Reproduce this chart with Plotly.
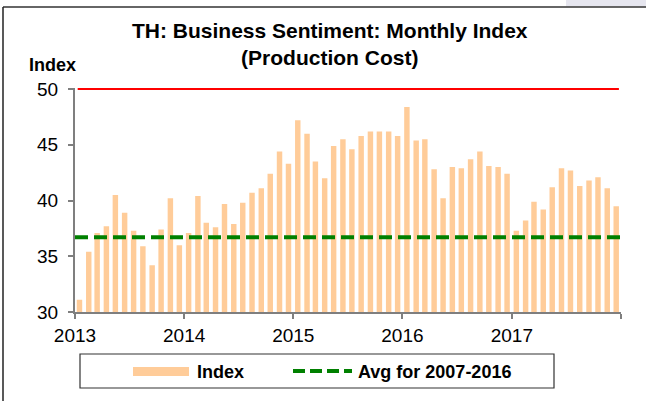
import plotly.graph_objects as go
import pandas as pd

# ---- data ----
start_month = "2013-01"
index_values = [
    31.1, 35.4, 37.1, 37.7, 40.5, 38.9, 37.3, 35.9, 34.2, 37.4, 40.2, 36.0,
    37.1, 40.4, 38.0, 37.6, 39.7, 37.9, 39.8, 40.7, 41.1, 42.4, 44.4, 43.3,
    47.2, 46.0, 43.5, 42.0, 44.9, 45.5, 44.6, 45.8, 46.2, 46.2, 46.2, 45.8,
    48.4, 45.4, 45.5, 42.8, 40.2, 43.0, 42.9, 43.7, 44.4, 43.1,
    43.0, 42.4, 37.3, 38.2, 39.9, 39.2, 41.2, 42.9, 42.7, 41.3, 41.8, 42.1, 41.1, 39.5,
]
avg_value = 36.7
ref_value = 50
year_ticks = ["2013-01-01", "2014-01-01", "2015-01-01", "2016-01-01", "2017-01-01", "2018-01-01"]
year_labels = ["2013", "2014", "2015", "2016", "2017", ""]
y_ticks = [30, 35, 40, 45, 50]
title_lines = ["TH: Business Sentiment: Monthly Index", "(Production Cost)"]
legend_labels = ["Index", "Avg for 2007-2016"]

months = pd.date_range(start_month + "-01", periods=len(index_values), freq="MS")
x_mid = months + pd.Timedelta(days=15)
x_start, x_end = year_ticks[0], year_ticks[-1]

BAR = "#FFCC99"
GREEN = "#008000"
FONT = "Liberation Sans, Arial, sans-serif"
AXC = "#7f7f7f"

fig = go.Figure()
fig.add_trace(go.Bar(
    x=x_mid, y=index_values, marker=dict(color=BAR, line=dict(width=0)),
    width=0.6 * 30.4 * 24 * 3600 * 1000, name=legend_labels[0], showlegend=False,
    hoverinfo="skip",
))
fig.add_trace(go.Scatter(
    x=[x_start, x_end], y=[avg_value, avg_value], mode="lines",
    line=dict(color=GREEN, width=4, dash="13px,6px"), name=legend_labels[1], showlegend=False,
    hoverinfo="skip",
))
fig.add_shape(type="line", xref="x", yref="y", x0="2013-01-10", x1="2017-12-25",
              y0=ref_value, y1=ref_value, line=dict(color="#FF0000", width=2))

W, H = 646, 401
L, R, T, B = 75, 621, 88, 312
Y_TOP = 50.1
def px(x):
    return (x - L) / (R - L)
def py(y):
    return (B - y) / (B - T)

# top-right decoration and frame
fig.add_shape(type="rect", xref="paper", yref="paper", x0=px(566), x1=px(646), y0=py(6.5), y1=py(0),
              line=dict(width=0), fillcolor="#E6E6EF", layer="below")
fig.add_shape(type="line", xref="paper", yref="paper", x0=px(3), x1=px(646), y0=py(7), y1=py(7),
              line=dict(color="#333333", width=1.5))
fig.add_shape(type="line", xref="paper", yref="paper", x0=px(3), x1=px(3), y0=py(7), y1=py(401),
              line=dict(color="#222222", width=1.5))

# legend box (custom)
fig.add_shape(type="rect", xref="paper", yref="paper", x0=px(80), x1=px(554), y0=py(388), y1=py(354),
              line=dict(color="#333333", width=1.2), fillcolor="white")
fig.add_shape(type="rect", xref="paper", yref="paper", x0=px(133), x1=px(189), y0=py(376), y1=py(367),
              line=dict(width=0), fillcolor=BAR)
fig.add_shape(type="line", xref="paper", yref="paper", x0=px(293), x1=px(352), y0=py(371), y1=py(371),
              line=dict(color=GREEN, width=4, dash="12px,5px"))
fig.add_annotation(xref="paper", yref="paper", x=px(195), y=py(372), text="<b>%s</b>" % legend_labels[0],
                   showarrow=False, xanchor="left", yanchor="middle", font=dict(family=FONT, size=18, color="black"))
fig.add_annotation(xref="paper", yref="paper", x=px(356), y=py(372), text="<b>%s</b>" % legend_labels[1],
                   showarrow=False, xanchor="left", yanchor="middle", font=dict(family=FONT, size=18, color="black"))

# title and axis label
fig.add_annotation(xref="paper", yref="paper", x=px(330), y=py(44),
                   text="<b>%s</b>" % "<br>".join(title_lines),
                   showarrow=False, xanchor="center", yanchor="middle", align="center",
                   font=dict(family=FONT, size=21, color="black"))
fig.add_annotation(xref="paper", yref="paper", x=px(52), y=py(65), text="<b>Index</b>",
                   showarrow=False, xanchor="center", yanchor="middle",
                   font=dict(family=FONT, size=18, color="black"))

fig.update_layout(
    width=W, height=H, margin=dict(l=L, r=W - R, t=T, b=H - B, pad=0),
    paper_bgcolor="white", plot_bgcolor="white", bargap=0.4,
    font=dict(family=FONT, size=18, color="black"), hovermode=False,
)
fig.update_xaxes(type="date", range=[x_start, x_end], tickvals=year_ticks, ticktext=year_labels,
                 showline=True, linecolor=AXC, linewidth=2, ticks="outside", ticklen=5, tickcolor=AXC,
                 tickwidth=2, showgrid=False, zeroline=False, tickfont=dict(size=19))
fig.update_yaxes(range=[30, Y_TOP], tickvals=y_ticks, showline=True, linecolor=AXC, linewidth=2,
                 ticks="outside", ticklen=5, tickcolor=AXC, tickwidth=2, showgrid=False, zeroline=False,
                 tickfont=dict(size=19), ticklabelstandoff=6)

fig.write_html("out.html", config={"displayModeBar": False},
               post_script="document.body.style.margin='0px';")
